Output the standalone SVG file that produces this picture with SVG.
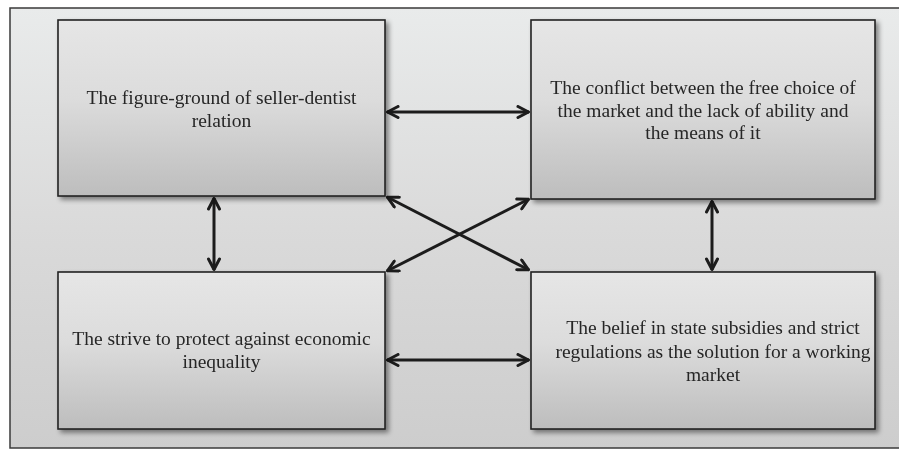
<svg xmlns="http://www.w3.org/2000/svg" width="899" height="450" viewBox="0 0 899 450">
<defs>
<linearGradient id="bg" x1="0" y1="0" x2="0" y2="1">
<stop offset="0" stop-color="#e9ebeb"/>
<stop offset="0.5" stop-color="#dadada"/>
<stop offset="1" stop-color="#cdcdcd"/>
</linearGradient>
<linearGradient id="box" x1="0" y1="0" x2="0" y2="1">
<stop offset="0" stop-color="#e6e6e6"/>
<stop offset="0.45" stop-color="#dcdcdc"/>
<stop offset="1" stop-color="#bdbdbd"/>
</linearGradient>
<filter id="sh" x="-5%" y="-5%" width="115%" height="120%">
<feGaussianBlur in="SourceAlpha" stdDeviation="2.5"/>
<feOffset dx="3" dy="3" result="b"/>
<feComponentTransfer><feFuncA type="linear" slope="0.45"/></feComponentTransfer>
<feMerge><feMergeNode/><feMergeNode in="SourceGraphic"/></feMerge>
</filter>
<marker id="ah" viewBox="0 0 14 14" refX="13" refY="7" markerWidth="14" markerHeight="14" markerUnits="userSpaceOnUse" orient="auto-start-reverse">
<path d="M2,1.5 L12.5,7 L2,12.5" fill="none" stroke="#1c1c1c" stroke-width="3" stroke-linecap="round" stroke-linejoin="round"/>
</marker>
</defs>
<style>
.box{fill:url(#box);stroke:#232323;stroke-width:1.6}
.t{font-family:"Liberation Serif","Times New Roman",serif;font-size:19.5px;fill:#262626;text-anchor:middle}
.c{stroke:#1c1c1c;stroke-width:3;fill:none;marker-start:url(#ah);marker-end:url(#ah)}
</style>
<rect x="0" y="0" width="899" height="450" fill="#ffffff"/>
<rect x="10" y="8" width="900" height="440" fill="url(#bg)" stroke="#3a3a3a" stroke-width="1.5"/>
<g id="connectors">
<line class="c" x1="387" y1="112" x2="529" y2="112"/>
<line class="c" x1="387" y1="360" x2="529" y2="360"/>
<line class="c" x1="214" y1="198" x2="214" y2="270"/>
<line class="c" x1="712" y1="201" x2="712" y2="270"/>
<line class="c" x1="387" y1="197" x2="529" y2="270"/>
<line class="c" x1="529" y1="199" x2="387" y2="271"/>
</g>
<g id="n1" filter="url(#sh)">
<rect class="box" x="58" y="20" width="327" height="176"/>
<text class="t" x="221.5" y="104">The figure-ground of seller-dentist</text>
<text class="t" x="221.5" y="127">relation</text>
</g>
<g id="n2" filter="url(#sh)">
<rect class="box" x="531" y="20" width="344" height="179"/>
<text class="t" x="703" y="94">The conflict between the free choice of</text>
<text class="t" x="703" y="116.5">the market and the lack of ability and</text>
<text class="t" x="703" y="139">the means of it</text>
</g>
<g id="n3" filter="url(#sh)">
<rect class="box" x="58" y="272" width="327" height="157"/>
<text class="t" x="221.5" y="345">The strive to protect against economic</text>
<text class="t" x="221.5" y="368">inequality</text>
</g>
<g id="n4" filter="url(#sh)">
<rect class="box" x="531" y="272" width="344" height="157"/>
<text class="t" x="713" y="334">The belief in state subsidies and strict</text>
<text class="t" x="713" y="357.5">regulations as the solution for a working</text>
<text class="t" x="713" y="381">market</text>
</g>
</svg>
